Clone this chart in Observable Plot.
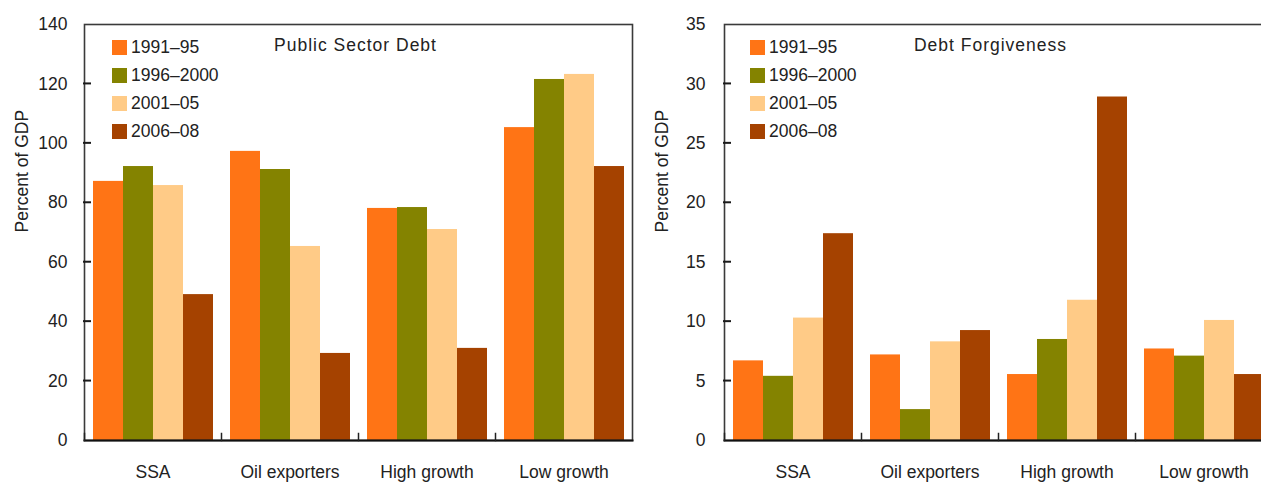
<!DOCTYPE html>
<html>
<head>
<meta charset="utf-8">
<script src="https://cdn.jsdelivr.net/npm/d3@7"></script>
<script src="https://cdn.jsdelivr.net/npm/@observablehq/plot@0.6"></script>
<style>
  html, body { margin: 0; padding: 0; background: #fff; }
  #wrap { position: relative; width: 1261px; height: 482px; overflow: hidden; font-family: "Liberation Sans", Arial, sans-serif; }
  .chart { position: absolute; top: 0; width: 640px; height: 482px; }
  .legend { position: absolute; top: 34px; font-size: 17.5px; color: #222; }
  .legend .row { display: flex; align-items: center; height: 27.8px; }
  .legend .sw { width: 15px; height: 15px; margin-right: 4px; }
</style>
</head>
<body>
<div id="wrap">
  <div class="chart" id="left" style="left:0px"></div>
  <div class="chart" id="right" style="left:640px"></div>
</div>
<script>
const categories = ["SSA", "Oil exporters", "High growth", "Low growth"];
const periods = ["1991–95", "1996–2000", "2001–05", "2006–08"];
const colors = ["#FF7415", "#848300", "#FFCB87", "#A54200"];

// Public Sector Debt (percent of GDP), one array per period, in category order
const debt1991 = [87.2, 97.3, 78.1, 105.3];
const debt1996 = [92.2, 91.2, 78.4, 121.5];
const debt2001 = [85.8, 65.3, 71.0, 123.2];
const debt2006 = [49.1, 29.3, 31.0, 92.2];

// Debt Forgiveness (percent of GDP)
const forg1991 = [6.7, 7.2, 5.55, 7.7];
const forg1996 = [5.4, 2.6, 8.5, 7.1];
const forg2001 = [10.3, 8.3, 11.8, 10.1];
const forg2006 = [17.4, 9.25, 28.9, 5.55];

const debtTicks = [0, 20, 40, 60, 80, 100, 120, 140];
const forgTicks = [0, 5, 10, 15, 20, 25, 30, 35];

function rows(series) {
  const out = [];
  categories.forEach((c, i) => series.forEach((s, j) => out.push({category: c, period: periods[j], value: s[i]})));
  return out;
}

const font = "Liberation Sans, Arial, sans-serif";
const ML = 83;

function chart(el, data, ticks, title, titleDx, legendLeft, tickPad) {
  const plot = Plot.plot({
    width: 640,
    height: 482,
    marginLeft: ML,
    marginRight: 8,
    marginTop: 24,
    marginBottom: 42,
    style: {fontFamily: font, fontSize: "17.5px", color: "#222", background: "transparent", overflow: "visible"},
    fx: {domain: categories, padding: 0, axis: null, label: null},
    x: {domain: periods, paddingInner: 0, paddingOuter: 0.28, axis: null},
    y: {domain: [ticks[0], ticks[ticks.length - 1]], axis: null},
    color: {domain: periods, range: colors},
    marks: [
      Plot.barY(data, {fx: "category", x: "period", y: "value", fill: "period"}),
      Plot.frame({facet: "super", stroke: "#3a3a3a", strokeWidth: 1.6}),
      Plot.frame({facet: "super", anchor: "bottom", stroke: "#111", strokeWidth: 2}),
      Plot.frame({anchor: "left", insetTop: 409, stroke: "#222", strokeWidth: 1.5}),
      Plot.axisY(ticks, {tickSize: 0, tickPadding: tickPad, fontSize: 17.5, fill: "#222", label: null}),
      Plot.axisFx({anchor: "bottom", tickSize: 0, tickPadding: 25, fontSize: 17.5, fill: "#222", label: null}),
      Plot.text(["Percent of GDP"], {facet: "super", frameAnchor: "left", dx: -62, rotate: -90, fontSize: 17.5, fill: "#222"}),
      Plot.text([title], {facet: "super", frameAnchor: "top-left", dx: titleDx, dy: 21, textAnchor: "middle", lineAnchor: "middle", fontSize: 17.5, fill: "#222"})
    ]
  });
  plot.querySelectorAll("text").forEach(t => {
    if (t.textContent === title) t.setAttribute("letter-spacing", "1px");
  });
  // inward tick marks on the left axis, positioned with Plot's own y scale
  const y = plot.scale("y");
  d3.select(plot).append("g")
    .attr("stroke", "#1a1a1a").attr("stroke-width", 2)
    .selectAll("line").data(ticks.slice(1, -1)).join("line")
    .attr("x1", ML).attr("x2", ML + 8)
    .attr("y1", d => y.apply(d)).attr("y2", d => y.apply(d));
  el.appendChild(plot);
  const lg = document.createElement("div");
  lg.className = "legend";
  lg.style.left = legendLeft + "px";
  periods.forEach((p, i) => {
    const r = document.createElement("div");
    r.className = "row";
    const sw = document.createElement("div");
    sw.className = "sw";
    sw.style.background = colors[i];
    const t = document.createElement("span");
    t.textContent = p;
    r.appendChild(sw); r.appendChild(t);
    lg.appendChild(r);
  });
  el.appendChild(lg);
}

chart(document.getElementById("left"), rows([debt1991, debt1996, debt2001, debt2006]), debtTicks, "Public Sector Debt", 271, 112, 17);
chart(document.getElementById("right"), rows([forg1991, forg1996, forg2001, forg2006]), forgTicks, "Debt Forgiveness", 266, 110, 19);
</script>
</body>
</html>
